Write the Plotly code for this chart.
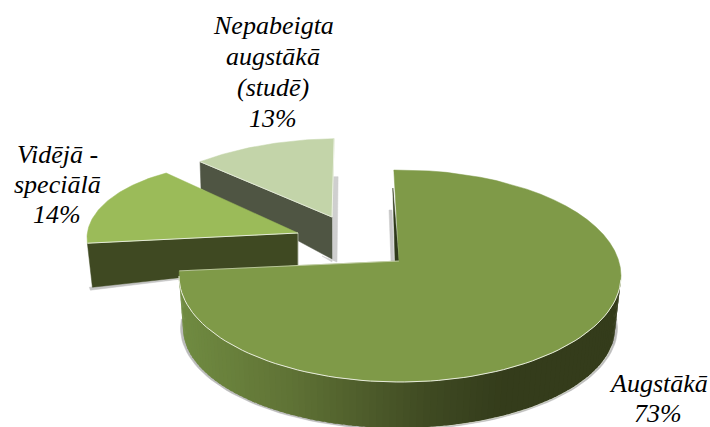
import math
import plotly.graph_objects as go

# ---- data ----
categories = ["Augstākā", "Vidējā -|speciālā", "Nepabeigta|augstākā|(studē)"]
values = [73, 14, 13]

# ---- style / projection of the tilted, exploded disc (one entry per slice) ----
top_colors = ["#7f9a48", "#9bbb59", "#c3d4a9"]
wall_colors = [None, "#3f4922", "#4f5543"]
apexes = [(399, 261), (298, 233), (332, 217)]
ellipses = [(400, 276, 221, 106), (242, 238, 155, 74.5), (341, 248.6, 230, 110)]
start_angles = [-1.6, 266, 322.2]
warps = [1.044, 1.284, 0.771]
wall_offsets = [None, ((5, 44), (0, 32)), ((1, 27), (0, 42))]
lower_ellipse = (399, 328, 216, 100)
label_x = [658, 57, 273]
label_first_baseline = [392, 163, 34]
label_pitch = [30, 30, 31]


def ell(e, deg):
    t = math.radians(deg)
    return e[0] + e[2] * math.sin(t), e[1] - e[3] * math.cos(t)


def shade(x):
    stops = [(185, (0x70, 0x8b, 0x41)), (293, (0x5f, 0x72, 0x35)),
             (427, (0x3f, 0x4a, 0x22)), (500, (0x34, 0x3c, 0x1b)), (720, (0x34, 0x3c, 0x1b))]
    if x <= stops[0][0]:
        return "rgb(%d,%d,%d)" % stops[0][1]
    for (a, ca), (b, cb) in zip(stops, stops[1:]):
        if x <= b:
            f = (x - a) / (b - a)
            return "rgb(%d,%d,%d)" % tuple(round(p + (q - p) * f) for p, q in zip(ca, cb))
    return "rgb(52,60,27)"


fig = go.Figure()


def poly(pts, color, lw=0.5):
    fig.add_trace(go.Scatter(x=[p[0] for p in pts] + [pts[0][0]], y=[p[1] for p in pts] + [pts[0][1]],
                             mode="lines", fill="toself", fillcolor=color,
                             line=dict(color=color, width=lw), hoverinfo="skip", showlegend=False))


def line(pts, color, width=1.0):
    fig.add_trace(go.Scatter(x=[p[0] for p in pts], y=[p[1] for p in pts], mode="lines",
                             line=dict(color=color, width=width), hoverinfo="skip", showlegend=False))


total = sum(values)
arcs = []
for i, v in enumerate(values):
    sweep = 360 * v / total * warps[i]
    n = 60
    arcs.append([ell(ellipses[i], start_angles[i] + sweep * k / n) for k in range(n + 1)])

# slices 3 and 2 (behind), with walls and soft shadows
for i in (2, 1):
    a = arcs[i]
    apex = apexes[i]
    p0 = a[0]
    o0, o1 = wall_offsets[i]
    b0 = (p0[0] + o0[0], p0[1] + o0[1])
    b1 = (apex[0] + o1[0], apex[1] + o1[1])
    if i == 2:
        tr = a[-1]
        poly([(tr[0] - 1, tr[1] + 38), (tr[0] + 4, tr[1] + 38), (b1[0] + 5, b1[1] + 3),
              (b1[0] - 10, b1[1] - 3), (b1[0], b1[1] + 3)], "#cfcfcf")
    else:
        poly([(b0[0] - 3, b0[1]), (b1[0] - 100, b1[1] + 12), (b0[0] - 2, b0[1] + 3)], "#c4c4c4")
    poly([p0, b0, b1, apex], wall_colors[i])
    poly(a + [apex], top_colors[i])
    line([p0, apex], "#e4ead8", 1)
    if i == 2:
        line([a[-1], apex], "#eef2e6", 1)
    else:
        line([apex, b1], "#ffffff", 0.5)

# main slice: shadow, rim gradient, inner sliver, top
le = lower_ellipse
poly([ell((le[0], le[1], le[2] + 2.5, le[3] + 1.5), 85 + 190 * k / 80) for k in range(81)], "#bcbcbc")
N = 100
for k in range(N):
    t0 = 90 + (268 - 90) * k / N
    t1 = 90 + (268 - 90) * (k + 1.6) / N
    tm = 90 + (268 - 90) * (k + 0.5) / N
    u0, u1 = ell(ellipses[0], t0), ell(ellipses[0], min(t1, 268))
    l0, l1 = ell(le, t0), ell(le, min(t1, 268))
    poly([u0, u1, l1, l0], shade(ell(le, tm)[0]), lw=0)

main_arc = arcs[0]
line([ell((le[0], le[1], le[2] + 0.5, le[3] + 0.5), 100 + 80 * k / 50) for k in range(51)], "#d8dccc", 0.7)
apex0 = apexes[0]
poly([(389, 210), (391, 262), (394, 262), (392, 210)], "#c8c8c8")
poly([(main_arc[0][0] - 1, main_arc[0][1] + 18), (apex0[0] - 4, apex0[1]), apex0], "#2f3a1a")
poly(main_arc + [apex0], top_colors[0])
# bevel highlight along the near edge and the cut
line([ell(ellipses[0], 92 + 178 * k / 80) for k in range(81)], "#e8ecdc", 1)
line([main_arc[-1], apex0], "#c9d3ae", 0.8)

# labels, one annotation per text line so the tight line pitch can be kept
for cat, v, x, y0, dy in zip(categories, values, label_x, label_first_baseline, label_pitch):
    for j, txt in enumerate(cat.split("|") + [f"{v}%"]):
        fig.add_annotation(x=x, y=y0 + j * dy - 9, text=f"<i>{txt}</i>", showarrow=False,
                           xanchor="center", yanchor="middle", align="center",
                           font=dict(family="Liberation Serif", size=26, color="#000000"))

fig.update_xaxes(range=[0, 710], visible=False, fixedrange=True)
fig.update_yaxes(range=[427, 0], visible=False, fixedrange=True)
fig.update_layout(width=710, height=427, margin=dict(l=0, r=0, t=0, b=0), paper_bgcolor="#ffffff",
                  plot_bgcolor="#ffffff", showlegend=False)
fig.write_html("out.html", config=dict(displayModeBar=False),
               post_script="document.body.style.margin='0';document.body.style.overflow='hidden';")
